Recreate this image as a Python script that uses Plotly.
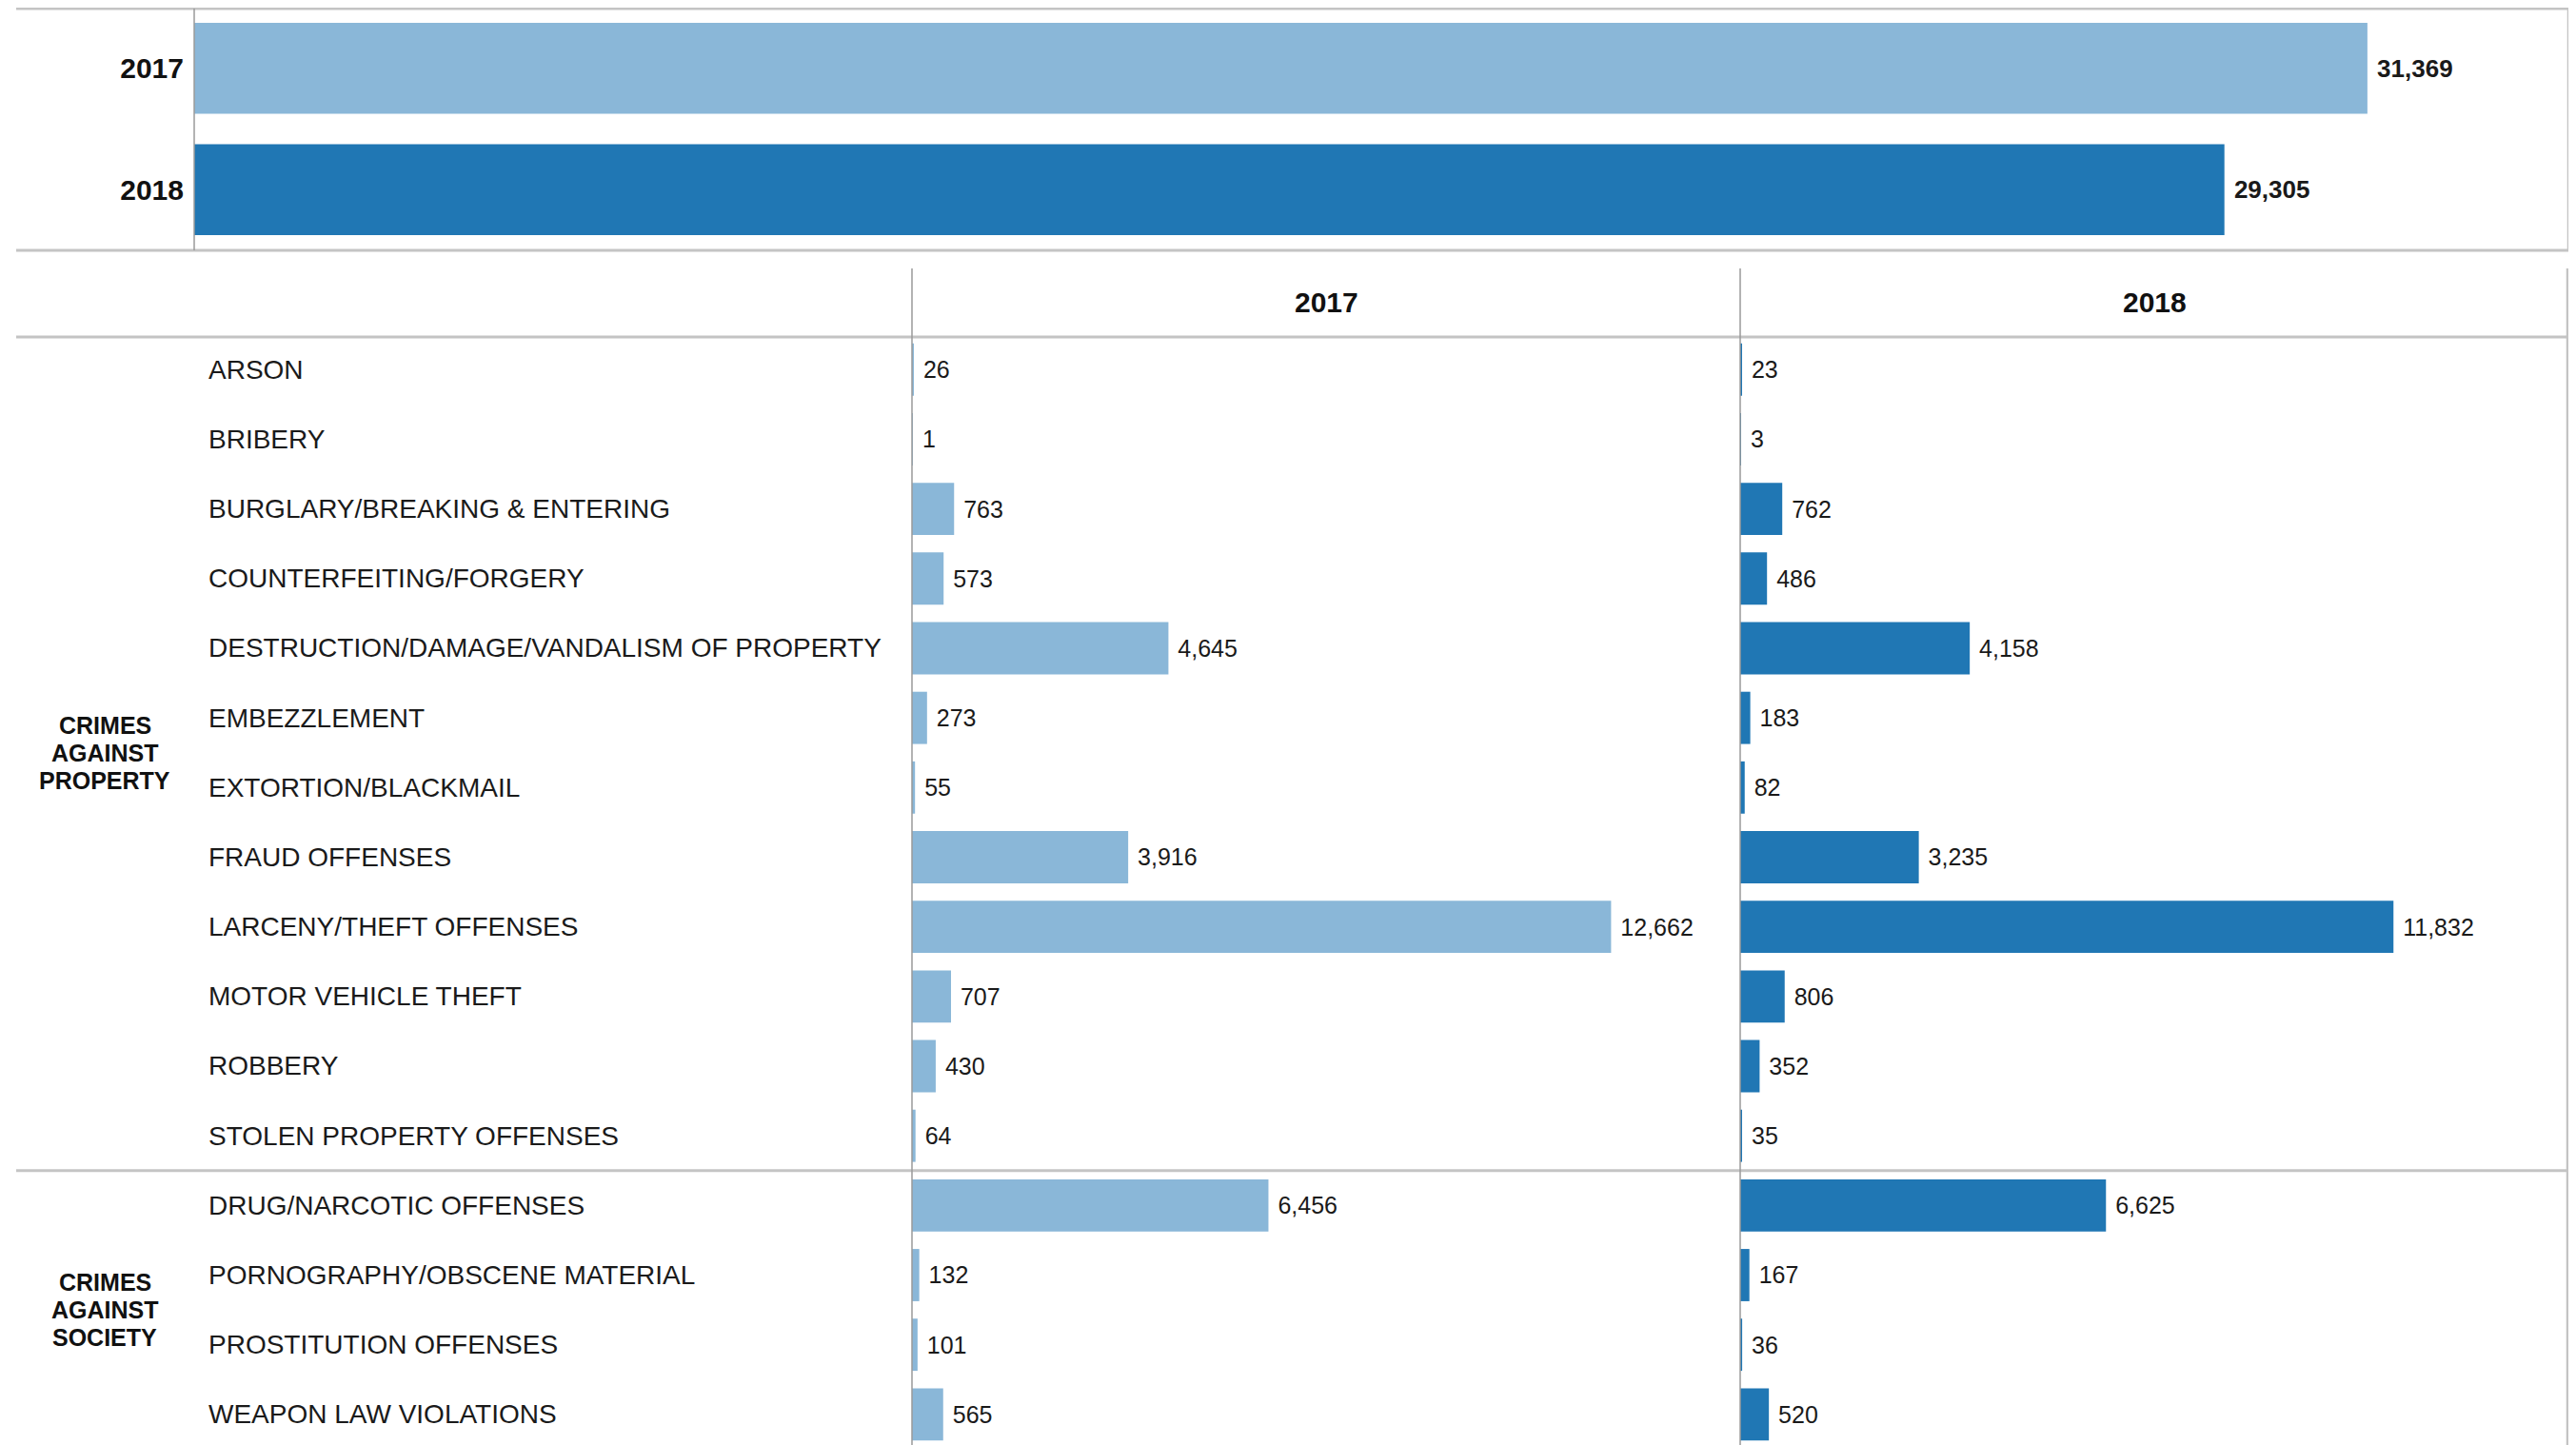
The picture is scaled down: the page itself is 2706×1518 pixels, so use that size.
import plotly.graph_objects as go

# ---------------- data ----------------
years = ["2017", "2018"]
totals = [31369, 29305]

offenses = [
    "ARSON", "BRIBERY", "BURGLARY/BREAKING & ENTERING", "COUNTERFEITING/FORGERY",
    "DESTRUCTION/DAMAGE/VANDALISM OF PROPERTY", "EMBEZZLEMENT", "EXTORTION/BLACKMAIL",
    "FRAUD OFFENSES", "LARCENY/THEFT OFFENSES", "MOTOR VEHICLE THEFT", "ROBBERY",
    "STOLEN PROPERTY OFFENSES", "DRUG/NARCOTIC OFFENSES", "PORNOGRAPHY/OBSCENE MATERIAL",
    "PROSTITUTION OFFENSES", "WEAPON LAW VIOLATIONS",
]
counts_2017 = [26, 1, 763, 573, 4645, 273, 55, 3916, 12662, 707, 430, 64, 6456, 132, 101, 565]
counts_2018 = [23, 3, 762, 486, 4158, 183, 82, 3235, 11832, 806, 352, 35, 6625, 167, 36, 520]

groups = [["CRIMES", "AGAINST", "PROPERTY"], ["CRIMES", "AGAINST", "SOCIETY"]]
group_sizes = [12, 4]

# ---------------- styling ----------------
OFF = 8  # page body margin offset
W, H = 2706 - OFF, 1518 - OFF
LIGHT = "#8AB7D8"
DARK = "#2077B4"
FONT = "Liberation Sans"
TXT = "#1a1a1a"
LINE = "#c4c4c4"
VLINE = "#9a9a9a"


def px(x):
    return (x - OFF) / W


def py(y):
    return 1 - (y - OFF) / H


rows = list(range(len(offenses)))

fig = go.Figure()

# top totals panel
fig.add_trace(go.Bar(
    x=totals, y=years, orientation="h", xaxis="x", yaxis="y",
    marker=dict(color=[LIGHT, DARK], line=dict(width=0)),
    texttemplate=" %{x:,}", textposition="outside", cliponaxis=False,
    constraintext="none",
    textfont=dict(family=FONT, size=26, color=TXT, weight="bold"),
    hoverinfo="skip",
))

# 2017 column
fig.add_trace(go.Bar(
    x=counts_2017, y=rows, orientation="h", xaxis="x2", yaxis="y2",
    marker=dict(color=LIGHT, line=dict(width=0)),
    texttemplate=" %{x:,}", textposition="outside", cliponaxis=False,
    constraintext="none",
    textfont=dict(family=FONT, size=25, color=TXT),
    hoverinfo="skip",
))

# 2018 column
fig.add_trace(go.Bar(
    x=counts_2018, y=rows, orientation="h", xaxis="x3", yaxis="y2",
    marker=dict(color=DARK, line=dict(width=0)),
    texttemplate=" %{x:,}", textposition="outside", cliponaxis=False,
    constraintext="none",
    textfont=dict(family=FONT, size=25, color=TXT),
    hoverinfo="skip",
))

hidden_x = dict(showgrid=False, zeroline=False, showticklabels=False, ticks="", showline=False)

# bottom table geometry (reference pixels)
TOP_ROWS = 351.7
ROW_H = 73.17
bottom_range = -0.5 + (1518 - TOP_ROWS) / ROW_H

fig.update_layout(
    width=W, height=H,
    margin=dict(l=0, r=0, t=0, b=0),
    paper_bgcolor="white", plot_bgcolor="white",
    showlegend=False,
    bargap=0.25,
    font=dict(family=FONT, color=TXT),
    xaxis=dict(domain=[px(204), px(2698)], range=[0, 34270], anchor="y", **hidden_x),
    yaxis=dict(domain=[py(263), py(8)], anchor="x", type="category",
               categoryorder="array", categoryarray=years, range=[1.5, -0.5],
               showgrid=False, zeroline=False, ticks="", showline=False,
               tickfont=dict(family=FONT, size=30, color="#111", weight="bold"),
               ticklabelstandoff=10),
    xaxis2=dict(domain=[px(958), px(1828)], range=[0, 15000], anchor="y2", **hidden_x),
    xaxis3=dict(domain=[px(1828), px(2698)], range=[0, 15000], anchor="y2", **hidden_x),
    yaxis2=dict(domain=[0, py(TOP_ROWS)], anchor="x2", range=[bottom_range, -0.5],
                showgrid=False, zeroline=False, showticklabels=False, ticks="",
                showline=False),
)

shapes = []
# top panel lines
for yy in (9, 263):
    shapes.append(dict(type="line", xref="paper", yref="paper",
                       x0=px(17), x1=px(2698), y0=py(yy), y1=py(yy),
                       line=dict(color=LINE, width=3)))
shapes.append(dict(type="line", xref="paper", yref="paper",
                   x0=px(204), x1=px(204), y0=py(9), y1=py(263),
                   line=dict(color=VLINE, width=1.5)))
shapes.append(dict(type="line", xref="paper", yref="paper",
                   x0=px(2698), x1=px(2698), y0=py(9), y1=py(263),
                   line=dict(color=LINE, width=2.5)))
# table header line
shapes.append(dict(type="line", xref="paper", yref="paper",
                   x0=px(17), x1=px(2698), y0=py(354), y1=py(354),
                   line=dict(color=LINE, width=3)))
# group separator line
shapes.append(dict(type="line", xref="paper", yref="y2",
                   x0=px(17), x1=px(2698), y0=group_sizes[0] - 0.5, y1=group_sizes[0] - 0.5,
                   line=dict(color=LINE, width=3)))
# vertical column lines
for xx in (958, 1828):
    shapes.append(dict(type="line", xref="paper", yref="paper",
                       x0=px(xx), x1=px(xx), y0=py(282), y1=0,
                       line=dict(color=VLINE, width=1.5)))
shapes.append(dict(type="line", xref="paper", yref="paper",
                   x0=px(2697), x1=px(2697), y0=py(282), y1=0,
                   line=dict(color=LINE, width=2.5)))
fig.update_layout(shapes=shapes)

annotations = []
# column headers
for yr, xc in zip(years, (1393, 2263)):
    annotations.append(dict(text=yr, xref="paper", yref="paper", x=px(xc), y=py(318),
                            xanchor="center", yanchor="middle", showarrow=False,
                            font=dict(family=FONT, size=30, color="#111", weight="bold")))
# row labels
for i, name in enumerate(offenses):
    annotations.append(dict(text=name, xref="paper", yref="y2", x=px(217), y=i,
                            xanchor="left", yanchor="middle", showarrow=False,
                            font=dict(family=FONT, size=28, color=TXT)))
# group labels (one annotation per line for tighter line spacing)
LINE_GAP = 29
start = 0
for words, n in zip(groups, group_sizes):
    center = start + (n - 1) / 2
    k = len(words)
    for j, w in enumerate(words):
        annotations.append(dict(text=w, xref="paper", yref="y2", x=px(110), y=center,
                                yshift=-(j - (k - 1) / 2) * LINE_GAP,
                                xanchor="center", yanchor="middle", showarrow=False,
                                font=dict(family=FONT, size=25, color="#111", weight="bold")))
    start += n
fig.update_layout(annotations=annotations)

fig.write_html("out.html")
